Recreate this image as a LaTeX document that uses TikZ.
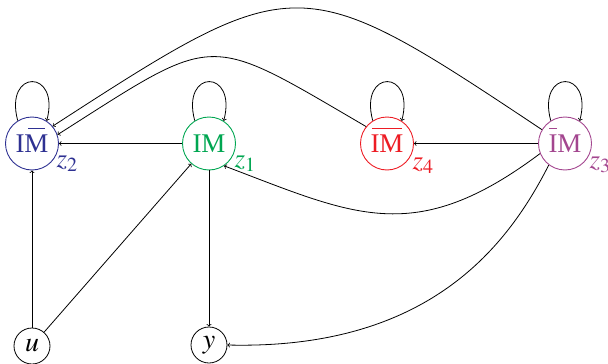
\documentclass[tikz,border=0pt]{standalone}
\usepackage{mathptmx}
\usepackage{fontspec}
\setmainfont{Liberation Serif}
\definecolor{zblue}{RGB}{46,49,146}
\definecolor{zgreen}{RGB}{0,166,81}
\definecolor{zred}{RGB}{237,28,36}
\definecolor{zpurple}{RGB}{163,70,143}
\newcommand{\topbar}[2]{\setbox0\hbox{#2}\rlap{\hbox to\wd0{\hss\raisebox{0.86em}[0pt][0pt]{\rule{#1}{0.05em}}\hss}}\box0}
\tikzset{
  imnode/.style={circle, draw, line width=0.9pt, minimum size=53pt, inner sep=0pt, font=\fontsize{27}{30}\selectfont},
  smallnode/.style={circle, draw, line width=0.8pt, minimum size=36pt, inner sep=0pt, font=\fontsize{28}{30}\selectfont},
  lab/.style={inner sep=0pt, font=\fontsize{27}{30}\selectfont},
  arr/.style={->, line width=0.8pt},
  selfloop/.style={arr}
}
\begin{document}
\begin{tikzpicture}[x=1pt,y=-1pt]
\useasboundingbox (0,0) rectangle (608,364);
% nodes
\node[imnode, draw=zblue, text=zblue] (z2) at (32,143.5) {I\topbar{0.62em}{M}};
\node[imnode, draw=zgreen, text=zgreen] (z1) at (209,143.5) {IM};
\node[imnode, draw=zred, text=zred] (z4) at (387,143.5) {\topbar{1.1em}{IM}};
\node[imnode, draw=zpurple, text=zpurple] (z3) at (565,143.5) {\topbar{0.28em}{I}M};
\node[smallnode] (u) at (32,346) {$u$};
\node[smallnode] (y) at (209,345) {$y$};
% labels
\node[lab, text=zblue] (l2) at (67,164) {$z_2$};
\node[lab, text=zgreen] (l1) at (245,164) {$z_1$};
\node[lab, text=zred] (l4) at (423,166) {$z_4$};
\node[lab, text=zpurple] (l3) at (600,165) {$z_3$};
% self loops
\foreach \n in {z1,z2,z3,z4}{
  \draw[selfloop] (\n.122) .. controls +(-105:54) and +(-75:54) .. (\n.57);
}
% straight edges
\draw[arr] (u) -- (z2);
\draw[arr] (u) -- (z1);
\draw[arr] (z1) -- (z2);
\draw[arr] (z1) -- (y);
\draw[arr] (z3) -- (z4);
% curved edges
\draw[arr] (z3.149) .. controls (299,-32) and (297,-32) .. (z2.40);
\draw[arr] (z4.141) .. controls (204,32) and (219,32) .. (z2.19);
\draw[arr] (z3.-158) .. controls (414,248) and (354,215) .. (z1.-56);
\draw[arr] (z3.-127) .. controls (508,245) and (430,350) .. (y.east);
\end{tikzpicture}
\end{document}
